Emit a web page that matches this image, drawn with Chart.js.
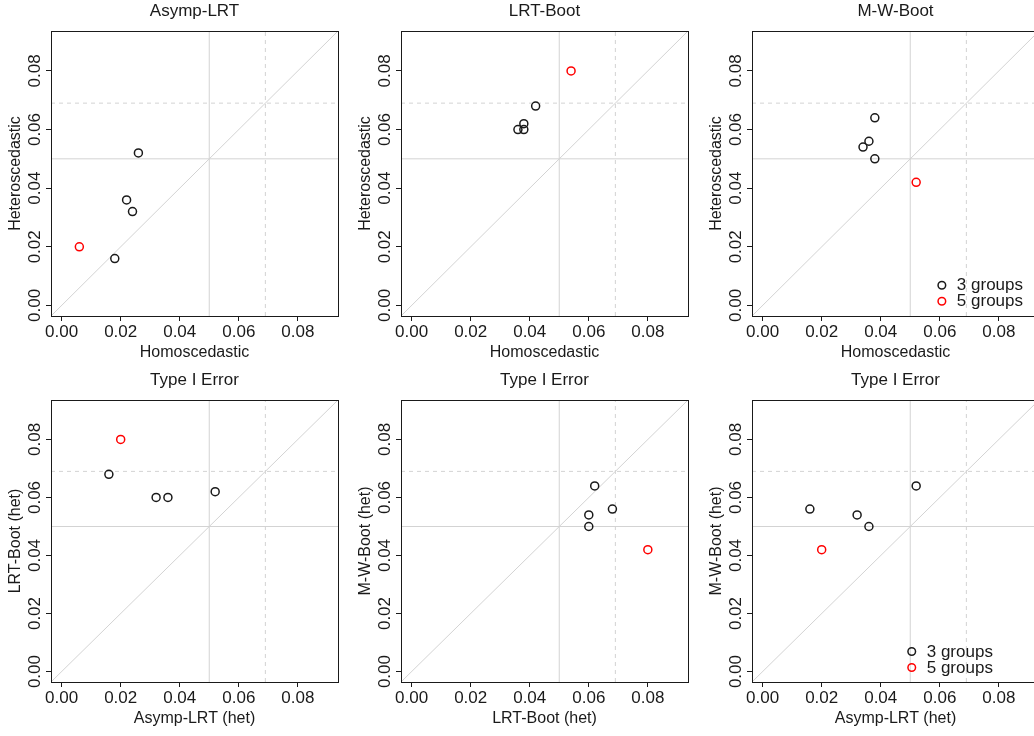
<!DOCTYPE html>
<html>
<head>
<meta charset="utf-8">
<script src="https://cdn.jsdelivr.net/npm/chart.js@4"></script>
<style>
  html, body { margin: 0; padding: 0; background: #fff; overflow: hidden; }
  body { width: 1034px; height: 736px; position: relative; }
  canvas { position: absolute; }
</style>
</head>
<body>
<script>
// Type I error rates, 3-group scenarios (black) and the 5-group scenario (red)
const asympHomo3 = [0.018, 0.024, 0.022, 0.026];
const asympHet3 = [0.016, 0.032, 0.036, 0.052];
const lrtHomo3 = [0.042, 0.036, 0.038, 0.038];
const lrtHet3 = [0.068, 0.060, 0.060, 0.062];
const mwHomo3 = [0.036, 0.034, 0.038, 0.038];
const mwHet3 = [0.056, 0.054, 0.050, 0.064];

const asympHomo5 = [0.006];
const asympHet5 = [0.020];
const lrtHomo5 = [0.054];
const lrtHet5 = [0.080];
const mwHomo5 = [0.052];
const mwHet5 = [0.042];

const tickValues = [0, 0.02, 0.04, 0.06, 0.08];
const axisLimits = [-0.0036, 0.0936]; // 0..0.09 with R's 4% padding
const nominalLevel = 0.05;
const upperBound = 0.069;
const legendLabels = ['3 groups', '5 groups'];

const FONT = 'Liberation Sans';
const INK = '#1a1a1a';
const REF = '#d3d3d3';

const panels = [
  { title: 'Asymp-LRT', xLabel: 'Homoscedastic', yLabel: 'Heteroscedastic',
    x3: asympHomo3, y3: asympHet3, x5: asympHomo5, y5: asympHet5 },
  { title: 'LRT-Boot', xLabel: 'Homoscedastic', yLabel: 'Heteroscedastic',
    x3: lrtHomo3, y3: lrtHet3, x5: lrtHomo5, y5: lrtHet5 },
  { title: 'M-W-Boot', xLabel: 'Homoscedastic', yLabel: 'Heteroscedastic',
    x3: mwHomo3, y3: mwHet3, x5: mwHomo5, y5: mwHet5, legendAt: { x: 0.0607, y: 0.0069 } },
  { title: 'Type I Error', xLabel: 'Asymp-LRT (het)', yLabel: 'LRT-Boot (het)',
    x3: asympHet3, y3: lrtHet3, x5: asympHet5, y5: lrtHet5 },
  { title: 'Type I Error', xLabel: 'LRT-Boot (het)', yLabel: 'M-W-Boot (het)',
    x3: lrtHet3, y3: mwHet3, x5: lrtHet5, y5: mwHet5 },
  { title: 'Type I Error', xLabel: 'Asymp-LRT (het)', yLabel: 'M-W-Boot (het)',
    x3: asympHet3, y3: mwHet3, x5: asympHet5, y5: mwHet5, legendAt: { x: 0.0505, y: 0.0069 } },
];

// page layout (canvas placement only)
const colLeft = [0, 350, 701];
const rowTop = [0, 369];
const areaHeight = [285, 282];
const TITLE_H = 31, XAXIS_H = 50, YAXIS_W = 51, AREA_W = 287, PAD_R = 7;

const toPoints = (xs, ys) => xs.map((x, i) => ({ x: x, y: ys[i] }));

function refLine(pts, dashed) {
  return {
    data: pts, showLine: true, pointRadius: 0, borderColor: REF,
    borderWidth: 1, borderDash: dashed ? [4, 4] : [], order: 2,
  };
}

const boxPlugin = {
  id: 'box',
  afterDraw(chart) {
    const { ctx, chartArea: a } = chart;
    ctx.save();
    ctx.strokeStyle = INK;
    ctx.lineWidth = 1;
    ctx.strokeRect(Math.round(a.left) + 0.5, Math.round(a.top) + 0.5,
      Math.round(a.right - a.left), Math.round(a.bottom - a.top));
    ctx.restore();
  }
};

const groupLegend = {
  id: 'groupLegend',
  afterDatasetsDraw(chart, args, opts) {
    if (!opts.at) return;
    const { ctx, scales } = chart;
    const px = scales.x.getPixelForValue(opts.at.x);
    const py = scales.y.getPixelForValue(opts.at.y);
    const colors = [INK, '#ff0000'];
    ctx.save();
    ctx.font = '17px "' + FONT + '"';
    ctx.textBaseline = 'middle';
    legendLabels.forEach((label, i) => {
      const y = py + i * 16;
      ctx.beginPath();
      ctx.arc(px, y, 3.8, 0, Math.PI * 2);
      ctx.lineWidth = 1.5;
      ctx.strokeStyle = colors[i];
      ctx.stroke();
      ctx.fillStyle = INK;
      ctx.fillText(label, px + 15, y + 0.5);
    });
    ctx.restore();
  }
};

function axis(label, horizontal) {
  return {
    type: 'linear',
    min: axisLimits[0],
    max: axisLimits[1],
    afterBuildTicks: s => { s.ticks = tickValues.map(v => ({ value: v })); },
    afterFit: s => {
      if (horizontal) s.height = XAXIS_H; else s.width = YAXIS_W;
    },
    grid: { drawOnChartArea: false, drawTicks: true, tickLength: 5, color: INK, lineWidth: 1 },
    border: { display: false },
    ticks: horizontal
      ? { autoSkip: false, padding: 1.1, color: INK, font: { family: FONT, size: 17 },
          maxRotation: 0, minRotation: 0, callback: v => v.toFixed(2) }
      : { autoSkip: false, padding: -5.5, color: INK, font: { family: FONT, size: 17 },
          minRotation: 90, maxRotation: 90, crossAlign: 'center', callback: v => v.toFixed(2) },
    title: {
      display: true, text: label, color: INK, font: { family: FONT, size: 16 },
      padding: horizontal ? { top: 0, bottom: 3.4 } : { top: 6.2, bottom: 0 },
    },
  };
}

panels.forEach((p, i) => {
  const row = Math.floor(i / 3), col = i % 3;
  const canvas = document.createElement('canvas');
  const h = TITLE_H + areaHeight[row] + XAXIS_H;
  canvas.width = YAXIS_W + AREA_W + PAD_R;
  canvas.height = h;
  canvas.style.left = colLeft[col] + 'px';
  canvas.style.top = rowTop[row] + 'px';
  document.body.appendChild(canvas);

  const [lo, hi] = axisLimits;
  new Chart(canvas.getContext('2d'), {
    type: 'scatter',
    data: {
      datasets: [
        { label: legendLabels[0], data: toPoints(p.x3, p.y3), borderColor: INK,
          backgroundColor: 'rgba(0,0,0,0)', pointRadius: 4, pointBorderWidth: 1.5, order: 0 },
        { label: legendLabels[1], data: toPoints(p.x5, p.y5), borderColor: '#ff0000',
          backgroundColor: 'rgba(0,0,0,0)', pointRadius: 4, pointBorderWidth: 1.5, order: 0 },
        refLine([{ x: lo, y: lo }, { x: hi, y: hi }], false),
        refLine([{ x: lo, y: nominalLevel }, { x: hi, y: nominalLevel }], false),
        refLine([{ x: nominalLevel, y: lo }, { x: nominalLevel, y: hi }], false),
        refLine([{ x: lo, y: upperBound }, { x: hi, y: upperBound }], true),
        refLine([{ x: upperBound, y: lo }, { x: upperBound, y: hi }], true),
      ],
    },
    options: {
      responsive: false,
      animation: false,
      layout: { padding: { left: 0, right: PAD_R, top: 0, bottom: 0 } },
      scales: { x: axis(p.xLabel, true), y: axis(p.yLabel, false) },
      plugins: {
        legend: { display: false },
        tooltip: { enabled: false },
        title: {
          display: true, text: p.title, fullSize: false, color: INK,
          font: { family: FONT, size: 17, weight: 'normal' },
          padding: { top: 1.3, bottom: 9.3 },
        },
        groupLegend: { at: p.legendAt || null },
      },
    },
    plugins: [boxPlugin, groupLegend],
  });
});
</script>
</body>
</html>
